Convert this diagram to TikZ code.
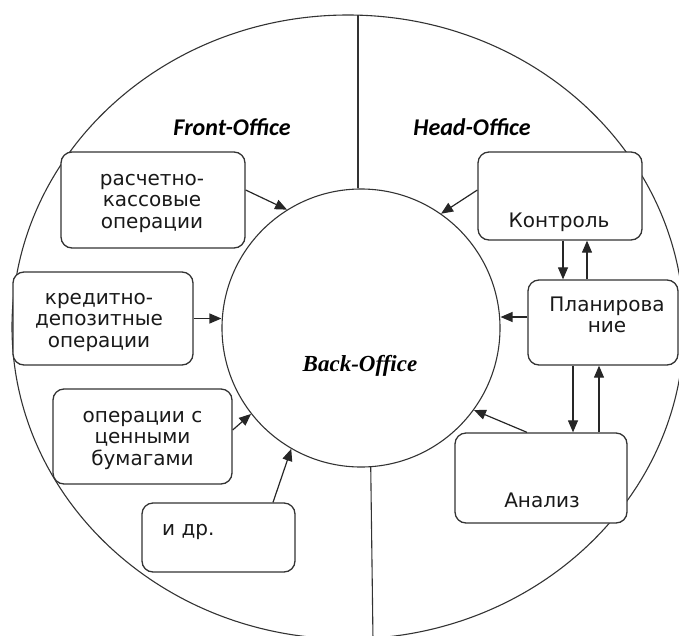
\documentclass[tikz,border=0pt]{standalone}
\usepackage{fontspec}
\usetikzlibrary{arrows.meta}
\newfontfamily\boxfont{DejaVu Sans}
\newfontfamily\hdfont{Carlito}
\newfontfamily\bofont{Liberation Serif}
\begin{document}
\begin{tikzpicture}[x=1pt,y=-1pt,
  box/.style={draw=black!80, fill=white, line width=1.3pt, rounded corners=11pt, inner sep=0pt},
  txt/.style={font=\boxfont\fontsize{20}{21.5}\selectfont, align=center, inner sep=0pt, text=black!90},
  head/.style={font=\hdfont\bfseries\itshape\fontsize{24}{26}\selectfont, inner sep=0pt},
  arr/.style={draw=black!85, line width=1.2pt, -{Triangle[length=12pt,width=10pt]}},
  ring/.style={draw=black!80, line width=1.1pt}]
\useasboundingbox (0,0) rectangle (679,635);
\clip (0,0) rectangle (679,635);
% outer ellipse and inner circle
\draw[ring] (348,327) ellipse [x radius=336pt, y radius=312pt];
\node[ring, circle, minimum size=278pt, inner sep=0pt] (bo) at (361,328) {};
\coordinate (topend) at (358,15);
\coordinate (botend) at (373,640);
\draw[ring] (topend) -- (topend |- bo.north);
\draw[ring] (bo.-86) -- (botend);
% headings
\node[head, anchor=base] (fo) at (232,135) {Front-Office};
\node[head, anchor=base] (ho) at (472,135) {Head-Office};
\node[font=\bofont\bfseries\itshape\fontsize{23}{25}\selectfont, inner sep=0pt, anchor=base] (bot) at (360,371) {Back-Office};
% boxes
\node[box, minimum width=184pt, minimum height=96pt] (b1) at (153,200) {};
\node[box, minimum width=180pt, minimum height=93pt] (b2) at (103,318.5) {};
\node[box, minimum width=179pt, minimum height=95pt] (b3) at (142.5,436.5) {};
\node[box, minimum width=153pt, minimum height=69pt] (b4) at (218.5,537.5) {};
\node[box, minimum width=164pt, minimum height=88pt] (b5) at (560,196) {};
\node[box, minimum width=150pt, minimum height=85pt] (b6) at (603,322.5) {};
\node[box, minimum width=172pt, minimum height=90pt] (b7) at (541,478) {};
% texts
\node[txt] (t1) at (152,203) {расчетно-\\кассовые\\операции};
\node[txt] (t2) at (99,322) {кредитно-\\депозитные\\операции};
\node[txt] (t3) at (142.5,440) {операции с\\ценными\\бумагами};
\node[txt, anchor=base west] (t4) at (162,535) {и др.};
\node[txt, anchor=base] (t5) at (559,227) {Контроль};
\node[txt] (t6) at (607,315) {Планирова\\ние};
\node[txt, anchor=base] (t7) at (542,507) {Анализ};
% arrows into Back-Office
\draw[arr] ([yshift=10pt]b1.east) -- (bo.122.5);
\draw[arr] (b2.east) -- (b2.east -| bo.west);
\draw[arr] ([yshift=6.5pt]b3.east) -- (bo.218.4);
\draw[arr] ([xshift=54.5pt]b4.north) -- (bo.240.1);
\draw[arr] ([yshift=6pt]b5.west) -- (bo.55);
\draw[arr] ([yshift=5.5pt]b6.west) -- ([yshift=5.5pt]b6.west -| bo.east);
\draw[arr] ([xshift=-14pt]b7.north) -- (bo.-36);
% arrows between head-office boxes
\draw[arr] ([xshift=3pt]b5.south) -- ([xshift=3pt]b5.south |- b6.north);
\draw[arr] ([xshift=27pt]b5.south |- b6.north) -- ([xshift=27pt]b5.south);
\draw[arr] ([xshift=-30pt]b6.south) -- ([xshift=-30pt]b6.south |- b7.north);
\draw[arr] ([xshift=-4pt]b6.south |- b7.north) -- ([xshift=-4pt]b6.south);
\end{tikzpicture}
\end{document}
